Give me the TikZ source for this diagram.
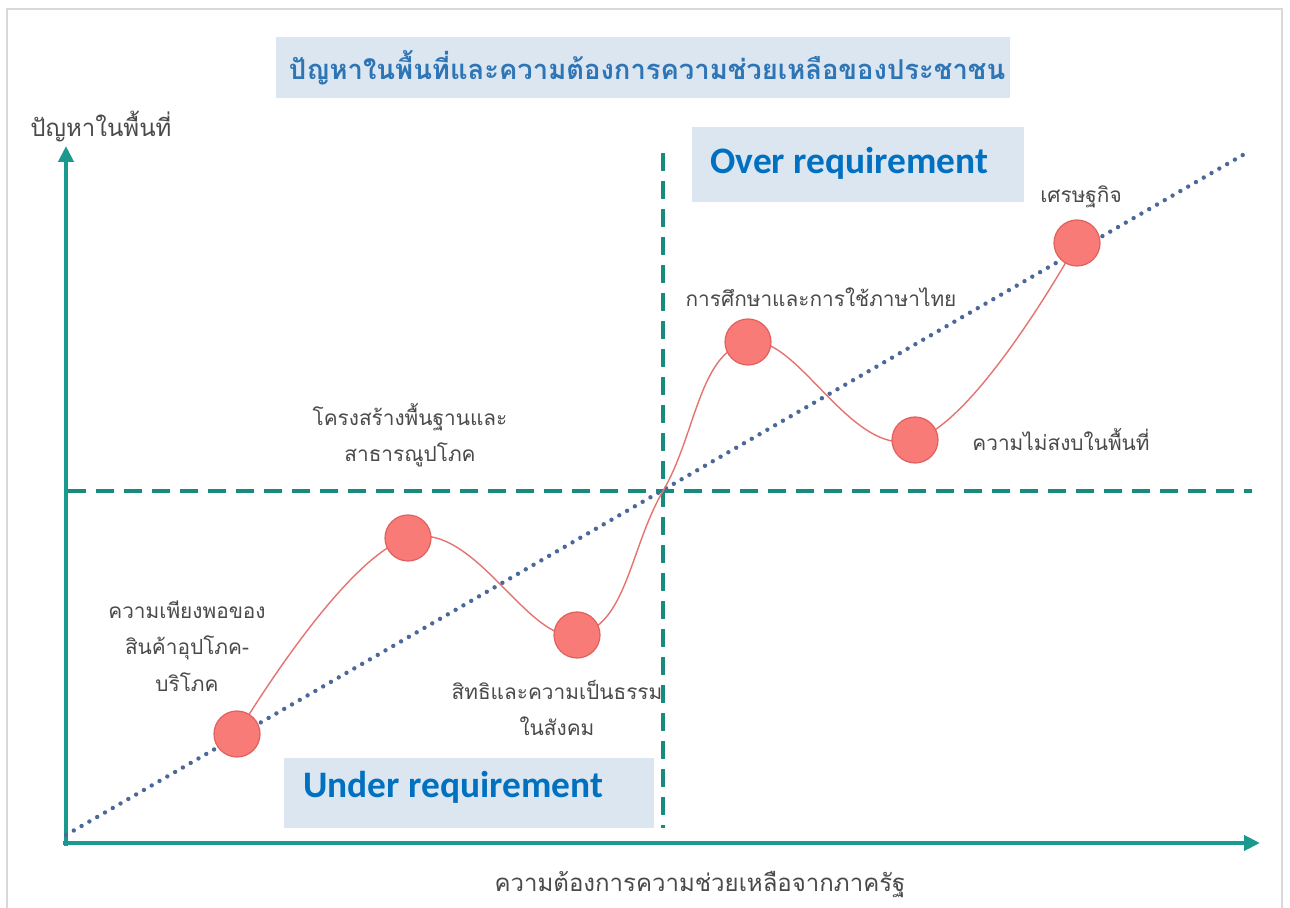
\documentclass[tikz,border=0pt]{standalone}
\usepackage{fontspec}
\usetikzlibrary{arrows.meta}
\newfontfamily\thaifont[Script=Thai]{Loma}
\setmainfont{Carlito}
\definecolor{teal1}{HTML}{1A9A8E}
\definecolor{teal2}{HTML}{178C7E}
\definecolor{dotblue}{HTML}{4A6898}
\definecolor{boxbg}{HTML}{DCE6F1}
\definecolor{titleblue}{HTML}{2E75B6}
\definecolor{reqblue}{HTML}{0070C0}
\definecolor{circfill}{HTML}{F97B78}
\definecolor{circline}{HTML}{E0605E}
\definecolor{curve}{HTML}{E57370}
\definecolor{lbl}{HTML}{4A4A4A}
\begin{document}
\begin{tikzpicture}[x=0.5pt,y=-0.5pt,
  axis/.style={draw=teal1,line width=2pt,-{Triangle[length=8pt,width=7.5pt]}},
  guide/.style={draw=teal2,line width=2pt,dash pattern=on 9pt off 5pt},
  dotline/.style={draw=dotblue,line width=2.2pt,line cap=round,dash pattern=on 0pt off 4.5pt},
  pt/.style={circle,fill=circfill,draw=circline,line width=0.6pt,minimum size=23pt,inner sep=0pt},
  lab/.style={text=lbl,font=\thaifont\fontsize{10.4}{18.2}\selectfont,align=center,inner sep=0pt},
  axlab/.style={text=lbl,font=\thaifont\fontsize{12}{14}\selectfont,inner sep=0pt},
  reqtxt/.style={text=reqblue,font=\bfseries\fontsize{18.7}{20}\selectfont,inner sep=0pt,anchor=west}]
\useasboundingbox (0,0) rectangle (1290,908);
\fill[white] (0,0) rectangle (1290,908);
\draw[black!15,line width=0.8pt] (7,930) -- (7,9) -- (1282,9) -- (1282,930);
% title
\fill[boxbg] (276,37) rectangle (1010,98);
\node[text=titleblue,font=\thaifont\bfseries\fontsize{13.7}{15}\selectfont,inner sep=0pt] (title) at (647,68) {ปัญหาในพื้นที่และความต้องการความช่วยเหลือของประชาชน};
% requirement boxes
\fill[boxbg] (692,127) rectangle (1024,202);
\node[reqtxt] (over) at (710,163) {Over requirement};
\fill[boxbg] (284,758) rectangle (654,828);
\node[reqtxt] (under) at (303,787) {Under requirement};
% guides
\coordinate (vtop) at (663,153);
\coordinate (vbot) at (663,828);
\coordinate (hl) at (68,491);
\coordinate (hr) at (1252,491);
\coordinate (mid) at (663,491);
\draw[guide] (vtop) -- (vbot);
\draw[guide] (hl) -- (hr);
% axes
\coordinate (ytip) at (66,146);
\coordinate (xtip) at (1260,843);
\draw[axis] (66,846) -- (ytip);
\draw[axis] (63,843) -- (xtip);
% dotted diagonal
\coordinate (d0) at (66,835);
\coordinate (d1) at (1248,152);
\draw[dotline] (d0) -- (d1);
% points
\coordinate (p1) at (237,734);
\coordinate (p2) at (408,538);
\coordinate (p3) at (577,635);
\coordinate (p4) at (748,342);
\coordinate (p5) at (915,440);
\coordinate (p6) at (1077,243);
\draw[curve,line width=0.7pt] plot[smooth,tension=0.7] coordinates {(p1) (p2) (p3) (mid) (p4) (p5) (p6)};
\node[pt] (c1) at (p1) {};
\node[pt] (c2) at (p2) {};
\node[pt] (c3) at (p3) {};
\node[pt] (c4) at (p4) {};
\node[pt] (c5) at (p5) {};
\node[pt] (c6) at (p6) {};
% labels
\node[lab] (l1) at (187,646) {ความเพียงพอของ\\สินค้าอุปโภค-\\บริโภค};
\node[lab] (l2) at (410,435) {โครงสร้างพื้นฐานและ\\สาธารณูปโภค};
\node[lab] (l3) at (557,708) {สิทธิและความเป็นธรรม\\ในสังคม};
\node[lab] (l4) at (821,297) {การศึกษาและการใช้ภาษาไทย};
\node[lab,anchor=west] (l5) at (972,440) {ความไม่สงบในพื้นที่};
\node[lab] (l6) at (1081,197) {เศรษฐกิจ};
\node[axlab,anchor=west] (ylab) at (30,127) {ปัญหาในพื้นที่};
\node[axlab] (xlab) at (700,885) {ความต้องการความช่วยเหลือจากภาครัฐ};
\end{tikzpicture}
\end{document}
